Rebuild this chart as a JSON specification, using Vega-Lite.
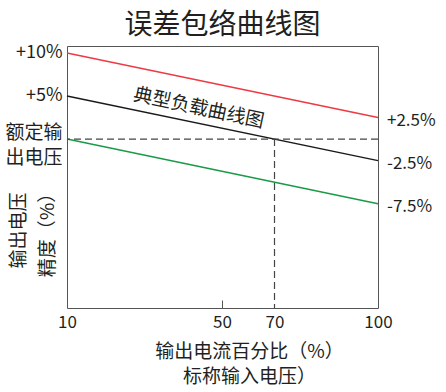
{
  "$schema": "https://vega.github.io/schema/vega-lite/v6.json",
  "width": 311,
  "height": 262,
  "autosize": {"type": "none"},
  "padding": {"left": 67, "top": 46, "right": 68, "bottom": 84},
  "config": {
    "font": "Noto Sans CJK SC",
    "view": {"stroke": "#555555", "strokeWidth": 1},
    "text": {"color": "#231f20"}
  },
  "title": {"text": "误差包络曲线图", "fontSize": 28, "fontWeight": "normal", "color": "#231f20", "anchor": "middle", "offset": 4},
  "datasets": {
    "lines": [
      {"s": "上限", "x": 10, "y": 10}, {"s": "上限", "x": 100, "y": 2.5},
      {"s": "典型", "x": 10, "y": 5}, {"s": "典型", "x": 100, "y": -2.5},
      {"s": "下限", "x": 10, "y": 0}, {"s": "下限", "x": 100, "y": -7.5}
    ],
    "hrule": [{"y": 0}],
    "vrule": [{"x": 70, "y": 0, "y2": -19.6}],
    "rlabels": [
      {"x": 100, "y": 2.5, "label": "+2.5%"},
      {"x": 100, "y": -2.5, "label": "-2.5%"},
      {"x": 100, "y": -7.5, "label": "-7.5%"}
    ],
    "clabel": [{"x": 44, "y": 3.6, "label": "典型负载曲线图"}]
  },
  "layer": [
    {
      "data": {"name": "lines"},
      "mark": {"type": "line", "strokeWidth": 1.5},
      "encoding": {
        "x": {
          "field": "x", "type": "quantitative",
          "scale": {"domain": [10, 50, 70, 100], "range": [0, 155, 207.5, 311], "nice": false, "zero": false},
          "axis": {
            "values": [10, 50, 70, 100], "format": "d", "grid": false, "domain": false,
            "labelFontSize": 17, "labelColor": "#231f20", "labelPadding": 14, "labelFlush": false,
            "tickSize": -8, "tickColor": "#555555",
            "tickOpacity": {"condition": {"test": "datum.value == 50", "value": 1}, "value": 0},
            "title": ["输出电流百分比（%）", "标称输入电压）"],
            "titleFontSize": 19, "titleFontWeight": "normal", "titleColor": "#231f20",
            "titleLineHeight": 25, "titleX": 182, "titleY": 34, "titleBaseline": "top", "titleAlign": "center"
          }
        },
        "y": {
          "field": "y", "type": "quantitative",
          "scale": {"domain": [-19.6, 10.8], "nice": false, "zero": false},
          "axis": {
            "values": [10, 5, 0], "grid": false, "domain": false, "ticks": false,
            "labelExpr": "datum.value == 10 ? '+10%' : datum.value == 5 ? '+5%' : ['额定输', '出电压']",
            "labelFontSize": {"condition": {"test": "datum.value == 0", "value": 19}, "value": 18},
            "labelOffset": {"condition": {"test": "datum.value == 0", "value": -7}, "value": 0},
            "labelColor": "#231f20", "labelPadding": 5, "labelLineHeight": 25,
            "title": ["输出电压", "精度（%）"],
            "titleFontSize": 19, "titleFontWeight": "normal", "titleColor": "#231f20",
            "titleLineHeight": 29, "titleX": -49, "titleY": 184, "titleAngle": -90,
            "titleAlign": "center", "titleBaseline": "middle"
          }
        },
        "color": {
          "field": "s", "type": "nominal",
          "scale": {"domain": ["上限", "典型", "下限"], "range": ["#ee3a43", "#1a1a1a", "#1a9a48"]},
          "legend": null
        }
      }
    },
    {
      "data": {"name": "hrule"},
      "mark": {"type": "rule", "strokeDash": [7, 4], "color": "#444444", "strokeWidth": 1.2},
      "encoding": {"y": {"field": "y", "type": "quantitative"}}
    },
    {
      "data": {"name": "vrule"},
      "mark": {"type": "rule", "strokeDash": [7, 4], "color": "#444444", "strokeWidth": 1.2},
      "encoding": {
        "x": {"field": "x", "type": "quantitative"},
        "y": {"field": "y", "type": "quantitative"},
        "y2": {"field": "y2"}
      }
    },
    {
      "data": {"name": "rlabels"},
      "mark": {"type": "text", "align": "left", "baseline": "middle", "dx": 9, "dy": 3, "fontSize": 17},
      "encoding": {
        "x": {"field": "x", "type": "quantitative"},
        "y": {"field": "y", "type": "quantitative"},
        "text": {"field": "label"}
      }
    },
    {
      "data": {"name": "clabel"},
      "mark": {"type": "text", "align": "center", "baseline": "middle", "angle": 12, "fontSize": 19},
      "encoding": {
        "x": {"field": "x", "type": "quantitative"},
        "y": {"field": "y", "type": "quantitative"},
        "text": {"field": "label"}
      }
    }
  ]
}
